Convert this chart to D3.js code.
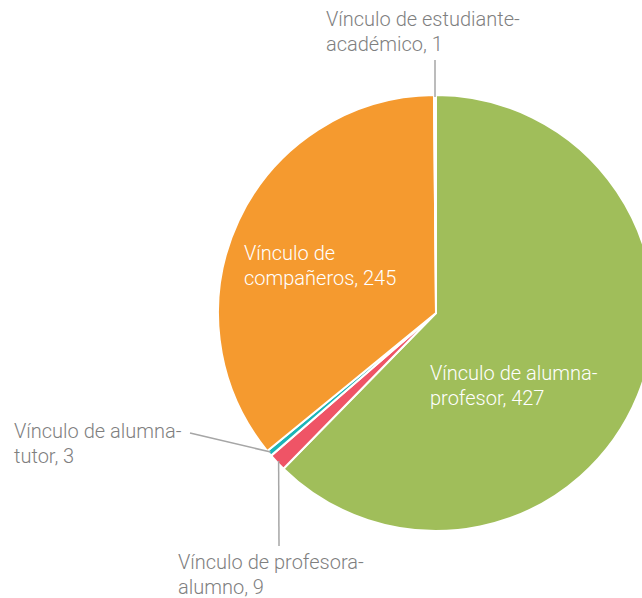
<!DOCTYPE html>
<html>
<head>
<meta charset="utf-8">
<script src="https://cdn.jsdelivr.net/npm/d3@7"></script>
<style>
  body { margin: 0; background: #fff; }
  svg { display: block; }
  .lbl { font-family: Roboto, "Liberation Sans", sans-serif; font-weight: 300; font-size: 20px; }
</style>
</head>
<body>
<div id="chart"></div>
<script>
// data
const categories = ["Vínculo de alumna-profesor", "Vínculo de profesora-alumno", "Vínculo de alumna-tutor", "Vínculo de compañeros", "Vínculo de estudiante-académico"];
const values = [427, 9, 3, 245, 1];
const labelLines = [
    ["Vínculo de alumna-", "profesor, 427"],
    ["Vínculo de profesora-", "alumno, 9"],
    ["Vínculo de alumna-", "tutor, 3"],
    ["Vínculo de", "compañeros, 245"],
    ["Vínculo de estudiante-", "académico, 1"]
];
const colors = ["#a0be5a", "#ef5466", "#1bb5b8", "#f59a2f", "#ffffff"];

// layout of labels (inside = white text on slice, outside = grey with leader)
const labelLayout = [
    {x: 430, y: 380, inside: true},
    {x: 178, y: 569, inside: false, end: [279, 546]},
    {x: 14, y: 438, inside: false, end: [190, 433]},
    {x: 244, y: 260, inside: true},
    {x: 326, y: 26, inside: false, end: [435, 60]}
];

const width = 642, height = 598;
const cx = 436, cy = 313, radius = 218;

const svg = d3.select("#chart").append("svg")
    .attr("width", width)
    .attr("height", height);

const pie = d3.pie().sort(null).value(d => d);
const arcs = pie(values);
const arc = d3.arc().innerRadius(0).outerRadius(radius);

const g = svg.append("g").attr("transform", `translate(${cx},${cy})`);

g.selectAll("path")
    .data(arcs)
    .enter()
    .append("path")
    .attr("d", arc)
    .attr("fill", (d, i) => colors[i])
    .attr("stroke", "#fff")
    .attr("stroke-width", 2)
    .attr("stroke-linejoin", "round");

// leader lines from slice edge to the outside labels
arcs.forEach((d, i) => {
    let lay = labelLayout[i];
    if (lay.inside) return;
    let a = (d.startAngle + d.endAngle) / 2;
    let r = radius - 2;
    let x0 = cx + Math.sin(a) * r, y0 = cy - Math.cos(a) * r;
    svg.append("line")
        .attr("x1", x0).attr("y1", y0)
        .attr("x2", lay.end[0]).attr("y2", lay.end[1])
        .attr("stroke", "#a6a6a6")
        .attr("stroke-width", 1.5);
});

// labels
labelLayout.forEach((lay, i) => {
    let t = svg.append("text")
        .attr("class", "lbl")
        .attr("x", lay.x)
        .attr("y", lay.y)
        .attr("fill", lay.inside ? "#ffffff" : "#7f7f7f");
    labelLines[i].forEach((line, j) => {
        t.append("tspan")
            .attr("x", lay.x)
            .attr("dy", j === 0 ? 0 : 25)
            .text(line);
    });
});
</script>
</body>
</html>
